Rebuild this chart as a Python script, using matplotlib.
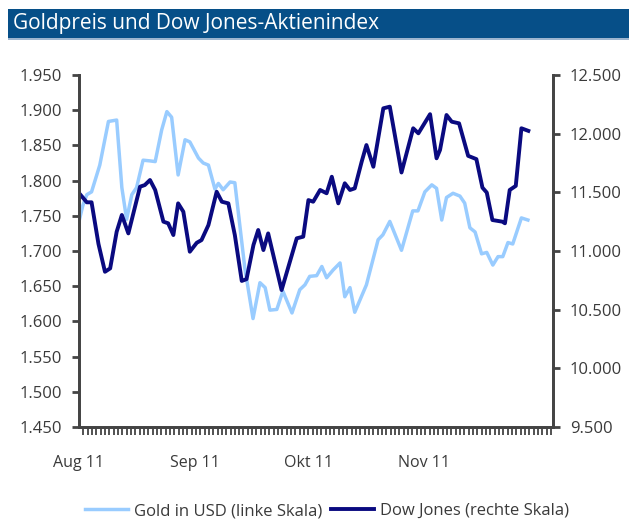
import matplotlib
matplotlib.use("Agg")
import matplotlib.pyplot as plt
from matplotlib.patches import Rectangle
from matplotlib.ticker import FuncFormatter, MultipleLocator
import numpy as np

plt.rcParams['font.family'] = ['Open Sans', 'DejaVu Sans']

# x position in days since start of the chart (one axis tick per day)
gold_day = [0.0, 0.9, 1.8, 2.9, 4.8, 6.8, 8.7, 9.9, 11.0, 12.2, 13.3, 14.8, 16.4, 17.6,
            19.1, 20.3, 21.4, 22.9, 24.5, 25.6, 27.6, 28.7, 29.9, 31.4, 32.2, 33.3, 34.9,
            36.0, 38.3, 40.2, 41.8, 43.0, 44.1, 45.7, 47.1, 49.2, 51.0, 52.2, 53.3, 54.9,
            56.1, 57.2, 58.7, 60.3, 61.4, 62.6, 63.7, 66.4, 69.1, 70.2, 71.8, 74.5, 77.1,
            78.3, 79.9, 81.5, 82.6, 83.8, 84.9, 86.4, 88.0, 89.1, 90.3, 91.5, 93.0, 94.2,
            95.6, 96.8, 97.9, 99.1, 100.2, 102.2, 103.7]
gold_usd = [1742, 1765, 1780, 1784, 1822, 1884, 1886, 1790, 1745, 1780, 1790, 1829, 1828, 1827,
            1872, 1898, 1890, 1808, 1858, 1855, 1832, 1825, 1822, 1788, 1796, 1787, 1798,
            1797, 1676, 1604, 1655, 1648, 1616, 1617, 1643, 1612, 1645, 1652, 1664, 1665,
            1678, 1662, 1673, 1683, 1635, 1648, 1613, 1652, 1716, 1723, 1742, 1701, 1757,
            1757, 1784, 1794, 1789, 1744, 1776, 1782, 1778, 1768, 1733, 1727, 1696, 1698,
            1680, 1692, 1692, 1712, 1710, 1747, 1744]

dow_day = [0.0, 1.8, 2.9, 4.5, 6.0, 7.2, 8.7, 9.9, 11.4, 14.1, 15.2, 16.4, 17.6, 19.5, 20.6,
           21.8, 22.9, 24.1, 25.6, 27.2, 28.3, 29.9, 31.8, 33.0, 34.5, 36.0, 37.6, 38.7,
           40.3, 41.4, 42.6, 43.7, 46.8, 50.3, 51.8, 53.0, 54.1, 55.7, 57.2, 58.4, 59.9,
           61.4, 62.6, 63.7, 65.3, 66.4, 68.0, 70.3, 71.8, 74.5, 77.2, 78.4, 81.1, 82.6,
           83.4, 84.9, 86.1, 87.8, 89.9, 91.8, 93.2, 94.2, 95.5, 97.8, 98.4, 99.5, 100.9,
           102.2, 103.8]
dow_pts = [11494, 11415, 11415, 11060, 10823, 10852, 11164, 11307, 11150, 11548, 11562, 11605,
           11520, 11250, 11236, 11136, 11406, 11335, 10994, 11070, 11093, 11221, 11505, 11420,
           11406, 11136, 10745, 10760, 11051, 11179, 11008, 11150, 10667, 11108, 11122, 11434,
           11420, 11520, 11492, 11633, 11406, 11577, 11520, 11534, 11761, 11903, 11718, 12216,
           12230, 11669, 12046, 12003, 12166, 11790, 11861, 12159, 12102, 12088, 11811, 11783,
           11540, 11498, 11264, 11250, 11236, 11520, 11555, 12046, 12024]

month_pos = [0, 26.8, 53.1, 79.7]
month_labels = ['Aug 11', 'Sep 11', 'Okt 11', 'Nov 11']

title = 'Goldpreis und Dow Jones-Aktienindex'
gold_color = '#99CCFF'
dow_color = '#0A0A80'
axis_color = '#444444'
text_color = '#3A3A3A'


def de_thousands(v, pos):
    return '{:,.0f}'.format(v).replace(',', '.')


fig = plt.figure(figsize=(6.29, 5.22), dpi=100)
fig.patch.set_facecolor('white')

# title bar
fig.patches.append(Rectangle((8 / 629, 1 - 38 / 522), 1, 29 / 522, transform=fig.transFigure,
                             facecolor='#064F88', edgecolor='none', zorder=0))
fig.patches.append(Rectangle((8 / 629, 1 - 40 / 522), 1, 2 / 522, transform=fig.transFigure,
                             facecolor='#9DB5CF', edgecolor='none', zorder=0))
fig.text(13 / 629, 1 - 23.5 / 522, title, color='white', fontsize=15, va='center', ha='left',
         fontweight='medium')

ax = fig.add_axes([79 / 629, 1 - 427 / 522, 474 / 629, 352 / 522])
ax2 = ax.twinx()

l1, = ax.plot(gold_day, gold_usd, color=gold_color, lw=2.5, label='Gold in USD (linke Skala)',
              solid_joinstyle='round')
l2, = ax2.plot(dow_day, dow_pts, color=dow_color, lw=2.8, label='Dow Jones (rechte Skala)',
               solid_joinstyle='round')

ax.set_xlim(0, 109.5)
ax.set_ylim(1450, 1950)
ax2.set_ylim(9500, 12500)
ax.yaxis.set_major_locator(MultipleLocator(50))
ax2.yaxis.set_major_locator(MultipleLocator(500))
ax.yaxis.set_major_formatter(FuncFormatter(de_thousands))
ax2.yaxis.set_major_formatter(FuncFormatter(de_thousands))

ax.set_xticks(month_pos)
ax.set_xticklabels(month_labels)
ax.set_xticks(np.arange(0, 110), minor=True)

for a in (ax, ax2):
    a.spines['top'].set_visible(False)
    for s in ('left', 'right', 'bottom'):
        a.spines[s].set_color(axis_color)
        a.spines[s].set_linewidth(2.0)

ax.tick_params(axis='x', which='major', length=0, pad=20, labelsize=11.5, colors=text_color)
ax.tick_params(axis='x', which='minor', length=6, width=1.3, color=axis_color, direction='out')
ax.tick_params(axis='y', which='major', length=5, width=2, color=axis_color, pad=7,
               labelsize=12, labelcolor=text_color)
ax2.tick_params(axis='y', which='major', length=5, width=2, color=axis_color, pad=7,
                labelsize=12, labelcolor=text_color)

fig.legend(handles=[l1, l2], loc='center', bbox_to_anchor=(0.52, 1 - 511 / 522), ncol=2,
           frameon=False, fontsize=12, handlelength=2.6, columnspacing=0.5, handletextpad=0.35,
           labelcolor=text_color)

fig.savefig('out.png', dpi=100)
